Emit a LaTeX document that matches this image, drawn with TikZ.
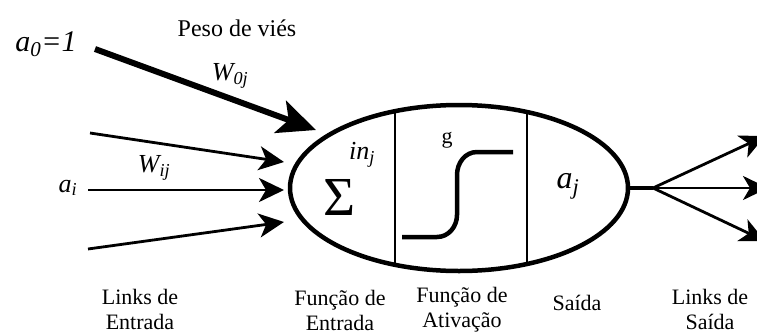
\documentclass[tikz,border=0pt]{standalone}
\usepackage{fontspec}
\setmainfont{Liberation Serif}
\usetikzlibrary{arrows.meta,shapes.geometric,positioning}
\tikzset{
  lbl/.style={font=\fontsize{22}{25}\selectfont, align=center},
  inarrow/.style={line width=2.8pt,-{Stealth[length=25pt,width=24pt,inset=7pt]}},
  biasarrow/.style={line width=6pt,-{Stealth[length=38pt,width=34pt,inset=9pt]}},
}

\begin{document}
\begin{tikzpicture}[x=1pt,y=-1pt]
                \useasboundingbox (0,0) rectangle (757,335);
                \coordinate (b0) at (95,49);
                \coordinate (b1) at (316,130);
                \coordinate (i1) at (90,133);
                \coordinate (i2) at (88,190);
                \coordinate (i3) at (88,249);
                \coordinate (e1) at (284,162);
                \coordinate (e2) at (284,190);
                \coordinate (e3) at (284,222);
                \coordinate (fan) at (653,188);
                %Neuron
                \node[ellipse, draw, line width=4.5pt, minimum width=338pt, minimum height=166pt, inner sep=0pt] (neuron) at (459,188) {};
                \begin{scope}
                  \clip (459,188) ellipse [x radius=169pt, y radius=83pt];
                  \draw[line width=2pt] (395,100) -- (395,280);
                  \draw[line width=2pt] (527,100) -- (527,280);
                \end{scope}
                \node[font=\fontsize{55}{55}\selectfont] (sum) at (340,197) {Σ};
                \node[font=\fontsize{26}{26}\selectfont\itshape] (inj) at (362,155) {in\textsubscript{j}};
                \node[font=\fontsize{22}{22}\selectfont] (g) at (447,140) {g};
                \node[font=\fontsize{32}{32}\selectfont\itshape] (aj) at (568,186) {a\textsubscript{j}};
                %Sigmoid
                \draw[line width=4.5pt] (402,237) -- (437,237) to[out=0,in=-90] (457,215) -- (457,175) to[out=90,in=180] (477,152) -- (513,152);
                %Inputs
                \node[font=\fontsize{30}{30}\selectfont\itshape] (a0) at (46,44) {a\textsubscript{0}=1};
                \node[font=\fontsize{24}{24}\selectfont] (bias) at (237,28) {Peso de viés};
                \node[font=\fontsize{26}{26}\selectfont\itshape] (w0j) at (230,76) {W\textsubscript{0j}};
                \node[font=\fontsize{26}{26}\selectfont\itshape] (ai) at (68,188) {a\textsubscript{i}};
                \node[font=\fontsize{26}{26}\selectfont\itshape] (wij) at (154,168) {W\textsubscript{ij}};
                \draw[biasarrow] (b0) -- (b1);
                \draw[inarrow] (i1) -- (e1);
                \draw[inarrow] (i2) -- (e2);
                \draw[inarrow] (i3) -- (e3);
                %Outputs
                \draw[line width=4.5pt] (neuron.east) -- (fan);
                \draw[inarrow] (fan) -- (765,136);
                \draw[inarrow] (fan) -- (768,188);
                \draw[inarrow] (fan) -- (765,241);
                %Labels
                \node[lbl] (lin) at (140,309) {Links de\\Entrada};
                \node[lbl] (fin) at (340,310) {Função de\\Entrada};
                \node[lbl] (fat) at (462,310) {Função de\\Ativação};
                \node[lbl] (out) at (577,303) {Saída};
                \node[lbl] (lout) at (710,309) {Links de\\Saída};
\end{tikzpicture}
\end{document}
